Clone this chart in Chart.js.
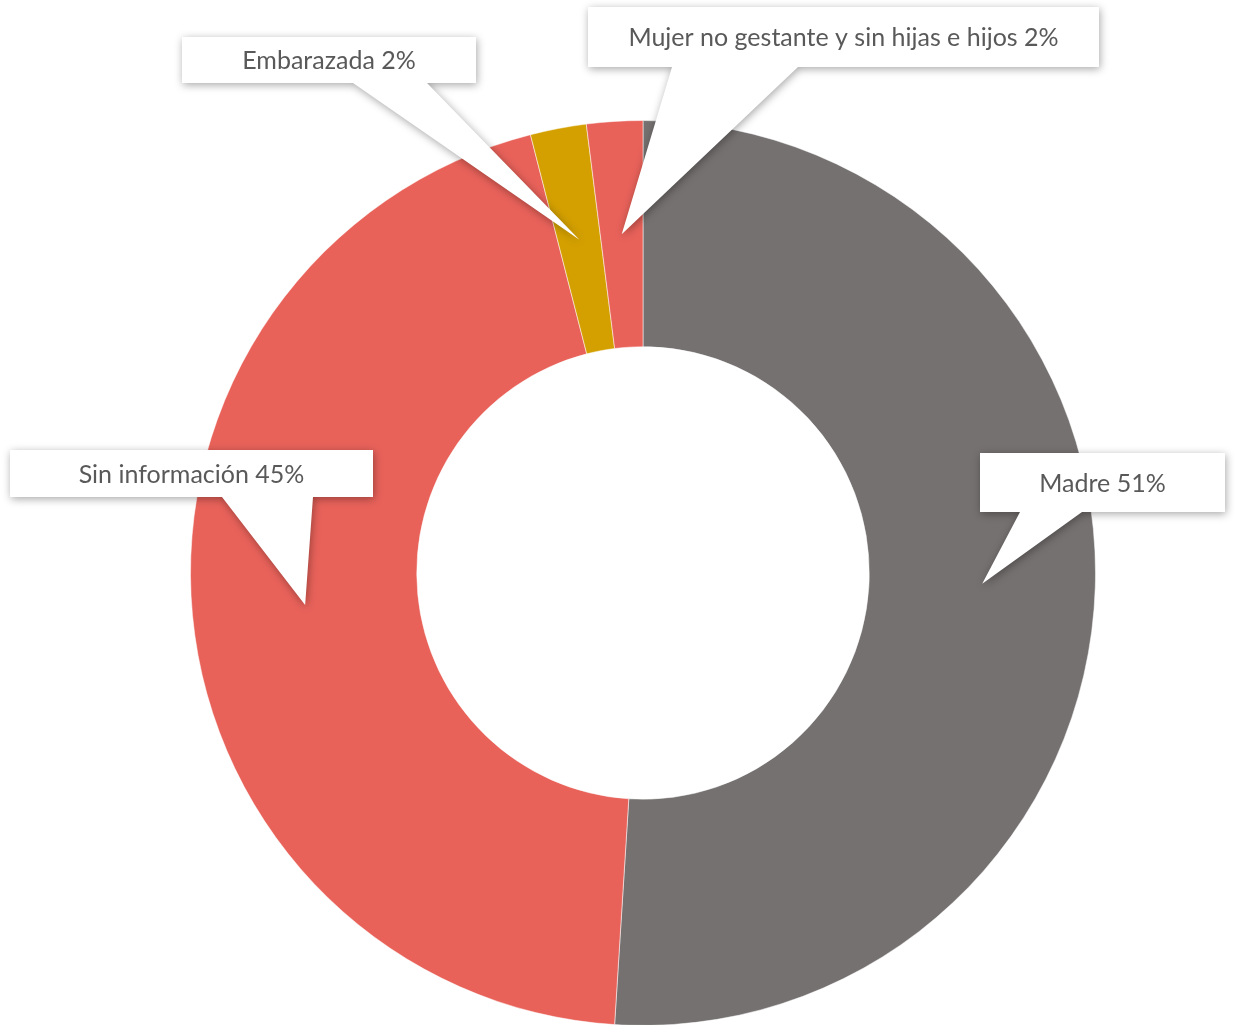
<!DOCTYPE html>
<html>
<head>
<meta charset="utf-8">
<script src="https://cdn.jsdelivr.net/npm/chart.js@4/dist/chart.umd.min.js"></script>
<style>
  html, body { margin: 0; padding: 0; background: #fff; overflow: hidden; }
  canvas { display: block; }
</style>
</head>
<body>
<canvas id="chart" width="1235" height="1026"></canvas>
<script>
let categories = ['Madre', 'Sin información', 'Embarazada', 'Mujer no gestante y sin hijas e hijos']
let values = [51, 45, 2, 2]
let colors = ['#767171', '#E8625A', '#D4A000', '#E8625A']

// callout boxes (label placement): x, y, w, h and where the wedge leaves the box bottom
let callouts = [
  { box: [980, 453, 245, 59], base: [1020, 1082] },
  { box: [10, 450, 363, 47], base: [222, 313] },
  { box: [182, 37, 294, 46], base: [353, 427] },
  { box: [588, 7, 511, 60], base: [672, 798] }
]

let total = values.reduce((a, b) => a + b, 0)

let calloutPlugin = {
  id: 'callouts',
  afterDatasetsDraw(chart) {
    let ctx = chart.ctx
    let meta = chart.getDatasetMeta(0)
    meta.data.forEach((arc, i) => {
      let c = callouts[i]
      let tip = arc.getCenterPoint()
      let [x, y, w, h] = c.box
      ctx.save()
      ctx.beginPath()
      ctx.moveTo(x, y)
      ctx.lineTo(x + w, y)
      ctx.lineTo(x + w, y + h)
      ctx.lineTo(c.base[1], y + h)
      ctx.lineTo(tip.x, tip.y)
      ctx.lineTo(c.base[0], y + h)
      ctx.lineTo(x, y + h)
      ctx.closePath()
      ctx.shadowColor = 'rgba(0,0,0,0.35)'
      ctx.shadowBlur = 9
      ctx.shadowOffsetX = 1
      ctx.shadowOffsetY = 2
      ctx.fillStyle = '#fff'
      ctx.fill()
      ctx.restore()

      ctx.save()
      let pct = Math.round(values[i] / total * 100)
      ctx.fillStyle = '#595959'
      ctx.font = '25px Lato, "Open Sans", sans-serif'
      ctx.textAlign = 'center'
      ctx.textBaseline = 'middle'
      ctx.fillText(categories[i] + ' ' + pct + '%', x + w / 2, y + h / 2 + 1)
      ctx.restore()
    })
  }
}

new Chart(document.getElementById('chart'), {
  type: 'doughnut',
  data: {
    labels: categories,
    datasets: [{
      data: values,
      backgroundColor: colors,
      borderColor: 'rgba(255,255,255,0.5)',
      borderWidth: 1
    }]
  },
  options: {
    responsive: false,
    animation: false,
    cutout: '50%',
    layout: { padding: { top: 120, left: 51, right: 0, bottom: 0 } },
    plugins: {
      legend: { display: false },
      tooltip: { enabled: false }
    }
  },
  plugins: [calloutPlugin]
})
</script>
</body>
</html>
